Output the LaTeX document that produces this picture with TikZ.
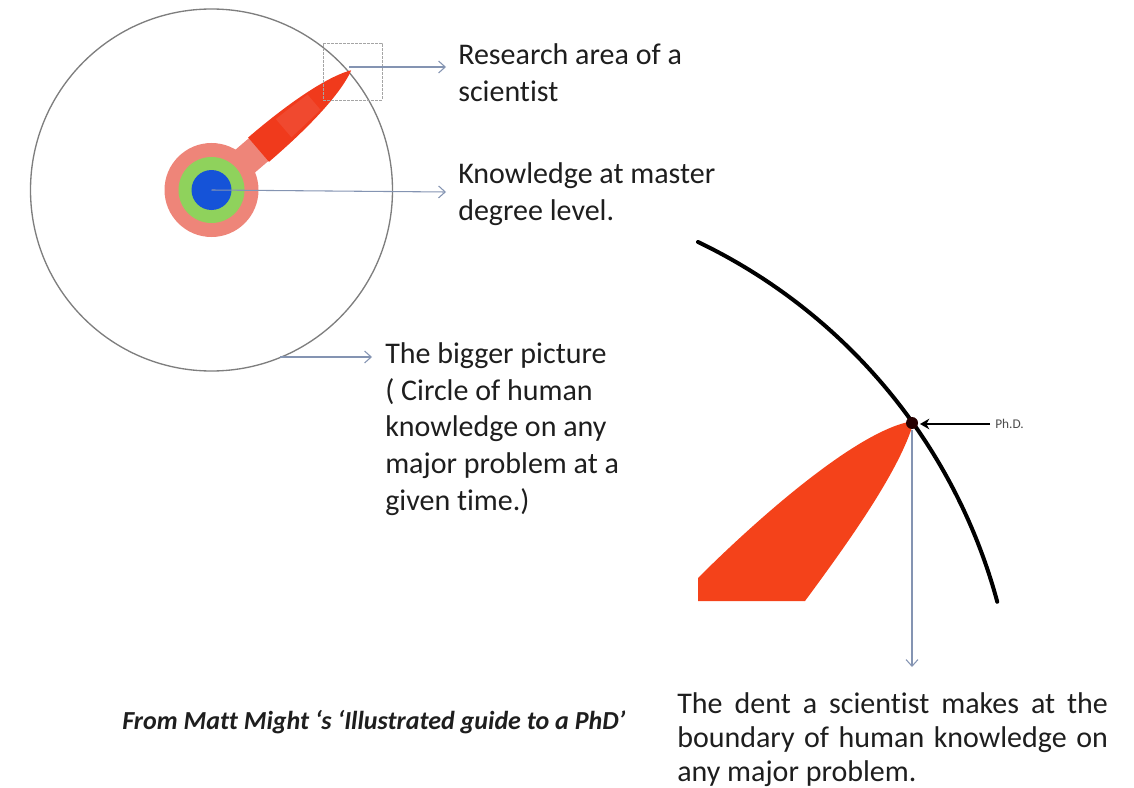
\documentclass[tikz,border=0pt]{standalone}
\usepackage{fontspec}
\setmainfont{Carlito}[Ligatures=NoCommon]
\usetikzlibrary{arrows.meta,calc}
\definecolor{pinkc}{HTML}{EE8579}
\definecolor{greenc}{HTML}{8FD25C}
\definecolor{bluec}{HTML}{1553D8}
\definecolor{redc}{HTML}{F03A1C}
\definecolor{redd}{HTML}{F4421A}
\definecolor{arrowc}{HTML}{8494B2}
\definecolor{textc}{HTML}{1E1E1E}
\definecolor{ringc}{HTML}{7E7E7E}
\tikzset{
  lbl/.style={font=\fontsize{22.5}{27.5}\selectfont, text=textc, align=left, inner sep=0pt, anchor=west},
  conn/.style={draw=arrowc, line width=0.8pt, -{Straight Barb[length=5pt,width=9pt]}},
  phdarrow/.style={draw=black, line width=2.2pt, -{Stealth[length=7pt,width=8pt]}},
}
\begin{document}
\begin{tikzpicture}[x=0.75pt,y=0.75pt]
\useasboundingbox (0,0) rectangle (1134,-788);
% big circle
\coordinate (c) at (211.5,-190);
\draw[ringc, line width=1pt] (c) circle[radius=181];
% stem
\begin{scope}[shift={(c)}, rotate=40.6]
  \fill[pinkc] (30,-15) rectangle (95,15);
  \fill[redc] (62,16) .. controls (130,16) and (168,8) .. (184,0)
        .. controls (168,-8) and (130,-16) .. (62,-16) -- cycle;
  \fill[redc!80!pinkc] (95,12) .. controls (110,11.5) and (125,10.5) .. (135,10) -- (135,-10) .. controls (125,-10.5) and (110,-11.5) .. (95,-12) -- cycle;
\end{scope}
\fill[pinkc] (c) circle[radius=47];
\fill[greenc] (c) circle[radius=33];
\fill[bluec] (c) circle[radius=20];
% research rectangle
\node[draw=ringc!70, dashed, dash pattern=on 2pt off 1pt, line width=0.6pt, minimum width=44.25pt, minimum height=42.75pt, inner sep=0pt] (rect) at (352.5,-71.5) {};
% labels
\node[lbl] (t1) at (458,-73) {Research area of a\\scientist};
\node[lbl] (t2) at (458,-194) {Knowledge at master\\degree level.};
\node[lbl] (t3) at (385,-429) {The bigger picture\\( Circle of human\\knowledge on any\\major problem at a\\given time.)};
\coordinate (a1s) at (349,-67);
\coordinate (a1e) at (446,-67);
\coordinate (a2e) at (446,-192);
\coordinate (a3s) at (280,-357);
\coordinate (a3e) at (372,-357);
\draw[conn] (a1s) -- (a1e);
\draw[conn] (c) -- (a2e);
\draw[conn] (a3s) -- (a3e);
% right detail
\coordinate (tip) at (914,-421);
\fill[redd] (698,-578) .. controls (758,-518) and (860,-428) .. (tip)
   .. controls (900,-470) and (850,-540) .. (805,-601) -- (698,-601) -- cycle;
\draw[black, line width=3pt, line cap=round] (698,-242) arc[start angle=64.4, end angle=15.1, radius=561];
\fill[black!85!red] (912,-423) circle[radius=6];
\node[font=\fontsize{10}{11}\selectfont, text=black!70, inner sep=0pt, anchor=west] (phd) at (995,-424) {Ph.D.};
\coordinate (phds) at (990,-424);
\coordinate (phde) at (920,-424);
\draw[phdarrow] (phds) -- (phde);
\coordinate (a4s) at (912,-430);
\coordinate (a4e) at (912,-667);
\draw[conn] (a4s) -- (a4e);
\node[lbl, font=\fontsize{22.5}{25.5}\selectfont] (t4) at (677,-740) {\makebox[323pt][s]{The dent a scientist makes at the}\\\makebox[323pt][s]{boundary of human knowledge on}\\any major problem.};
\node[lbl, font=\fontsize{19.5}{22}\selectfont\bfseries\itshape] (cap) at (122,-722) {From Matt Might ‘s ‘Illustrated guide to a PhD’};
\end{tikzpicture}
\end{document}
